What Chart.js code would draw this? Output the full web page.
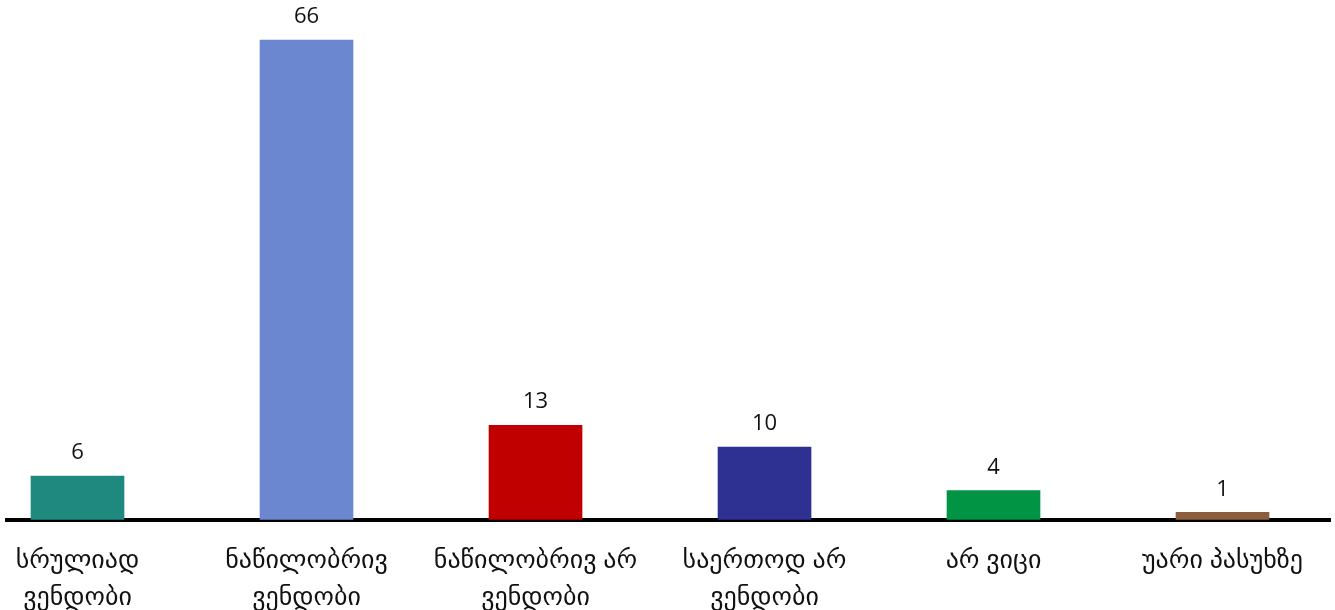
<!DOCTYPE html>
<html>
<head>
<meta charset="utf-8">
<script src="https://cdn.jsdelivr.net/npm/chart.js@4.4.1/dist/chart.umd.min.js"></script>
<style>
  html, body { margin: 0; padding: 0; background: #ffffff; }
  #wrap { width: 1335px; height: 610px; position: relative; }
</style>
</head>
<body>
<div id="wrap"><canvas id="chart"></canvas></div>
<script>
// Survey answers: trust level and share of respondents (%)
const categories = [
  ["სრულიად", "ვენდობი"],
  ["ნაწილობრივ", "ვენდობი"],
  ["ნაწილობრივ არ", "ვენდობი"],
  ["საერთოდ არ", "ვენდობი"],
  "არ ვიცი",
  "უარი პასუხზე"
];
const values = [6, 66, 13, 10, 4, 1];
const barColors = ["#20897F", "#6A87CF", "#C00000", "#2E3192", "#009444", "#8C5E3C"];

const FONT = '"Open Sans", "Noto Sans", "DejaVu Sans", sans-serif';

// Writes each bar's value just above it
const valueLabels = {
  id: 'valueLabels',
  afterDatasetsDraw(chart) {
    const ctx = chart.ctx;
    const meta = chart.getDatasetMeta(0);
    ctx.save();
    ctx.font = '22px ' + FONT;
    ctx.fillStyle = '#111111';
    ctx.textAlign = 'center';
    ctx.textBaseline = 'bottom';
    meta.data.forEach((bar, i) => {
      ctx.fillText(String(values[i]), bar.x, bar.y - 12);
    });
    ctx.restore();
  }
};

new Chart(document.getElementById('chart'), {
  type: 'bar',
  data: {
    datasets: [{
      data: values.map((v, i) => ({ x: i, y: v })),
      backgroundColor: barColors,
      borderWidth: 0,
      barThickness: 93
    }]
  },
  options: {
    responsive: true,
    maintainAspectRatio: false,
    animation: false,
    layout: { autoPadding: false, padding: { left: 7, right: 5, top: 11, bottom: -29 } },
    plugins: { legend: { display: false }, tooltip: { enabled: false } },
    scales: {
      x: {
        type: 'linear',
        offset: false,
        min: -0.3079,
        max: 5.4694,
        grid: { display: false, drawTicks: false },
        border: { display: true, color: '#000000', width: 4 },
        afterBuildTicks(scale) {
          scale.ticks = categories.map((_, i) => ({ value: i }));
        },
        afterFit(scale) {
          // labels may overhang the plot edges; keep the plot full width
          scale.paddingLeft = 0;
          scale.paddingRight = 0;
        },
        ticks: {
          autoSkip: false,
          maxRotation: 0,
          padding: 23,
          color: '#111111',
          font: { family: FONT, size: 26, lineHeight: 1.41 },
          callback: (value) => categories[value]
        }
      },
      y: {
        display: false,
        min: 0,
        max: 70
      }
    }
  },
  plugins: [valueLabels]
});
</script>
</body>
</html>
